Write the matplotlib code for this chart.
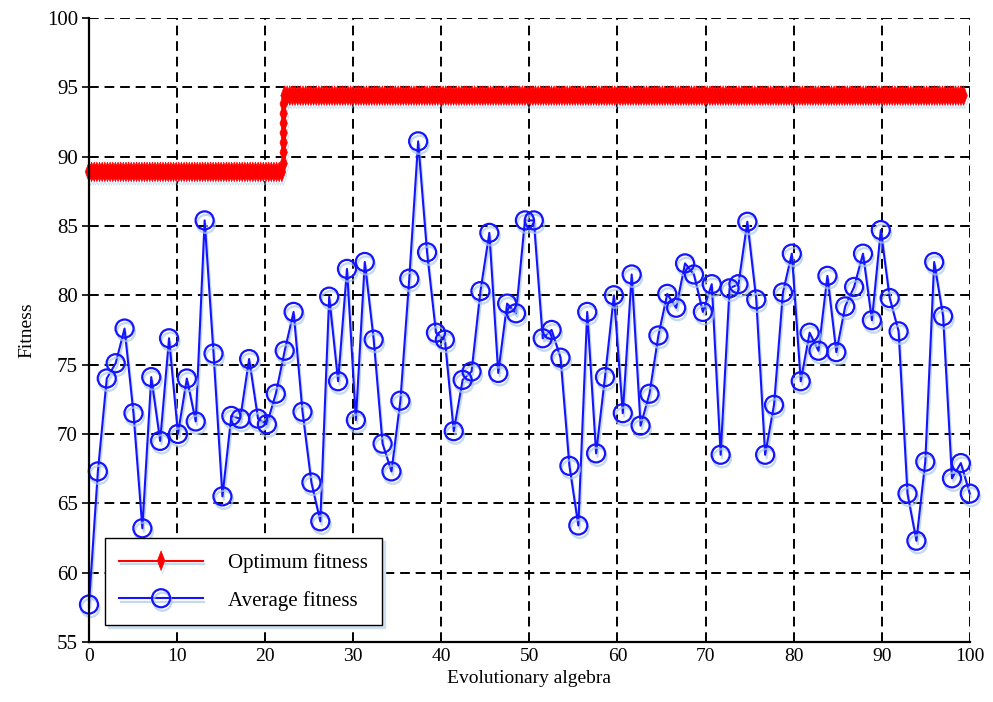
import numpy as np
import matplotlib
matplotlib.use("Agg")
import matplotlib.pyplot as plt
import matplotlib.patheffects as pe
from matplotlib.path import Path

plt.rcParams['font.family'] = ['Liberation Serif', 'DejaVu Serif']

# ---- data ----
avg_fitness = [57.7, 67.3, 74.0, 75.1, 77.6, 71.5, 63.2, 74.1, 69.5, 76.9,
               70.0, 74.0, 70.9, 85.4, 75.8, 65.5, 71.3, 71.1, 75.4, 71.1,
               70.7, 72.9, 76.0, 78.8, 71.6, 66.5, 63.7, 79.9, 73.8, 81.9,
               71.0, 82.4, 76.8, 69.3, 67.3, 72.4, 81.2, 91.1, 83.1, 77.3,
               76.8, 70.2, 73.9, 74.5, 80.3, 84.5, 74.4, 79.4, 78.7, 85.4,
               85.4, 76.9, 77.5, 75.5, 67.7, 63.4, 78.8, 68.6, 74.1, 80.0,
               71.5, 81.5, 70.6, 72.9, 77.1, 80.1, 79.1, 82.3, 81.5, 78.8,
               80.8, 68.5, 80.5, 80.8, 85.3, 79.7, 68.5, 72.1, 80.2, 83.0,
               73.8, 77.3, 76.0, 81.4, 75.9, 79.2, 80.6, 83.0, 78.2, 84.7,
               79.8, 77.4, 65.7, 62.3, 68.0, 82.4, 78.5, 66.8, 67.9, 65.7]
gen_avg = np.linspace(0, 100, len(avg_fitness))

# optimum fitness: step from 88.9 to 94.4 around generation 22
opt_low, opt_high = 88.9, 94.4
opt_switch = 22.0
opt_end = 99.5
opt_transition = [89.5, 90.3, 91.0, 91.7, 92.4, 93.1, 93.8]
gen_opt_low = np.arange(0, opt_switch + 0.01, 0.3)
gen_opt_high = np.arange(opt_switch + 0.2, opt_end + 0.01, 0.3)
gen_opt = np.concatenate([gen_opt_low,
                          np.full(len(opt_transition), opt_switch + 0.1),
                          gen_opt_high])
opt_fitness = np.concatenate([np.full(len(gen_opt_low), opt_low),
                              opt_transition,
                              np.full(len(gen_opt_high), opt_high)])

xticks = list(range(0, 101, 10))
yticks = list(range(55, 101, 5))

# ---- figure ----
fig = plt.figure(figsize=(9.93, 7.02), dpi=100)
ax = fig.add_axes([0.0896, 0.0855, 0.887, 0.889])

thin_diamond = Path([(0, 1), (0.38, 0), (0, -1), (-0.38, 0), (0, 1)],
                    [Path.MOVETO, Path.LINETO, Path.LINETO, Path.LINETO, Path.CLOSEPOLY])

shadow = [pe.SimpleLineShadow(offset=(1, -2.5), shadow_color='#a9c9ec', alpha=0.7), pe.Normal()]

ax.plot(gen_opt, opt_fitness, color='red', lw=1.5, marker=thin_diamond,
        markersize=14, mfc='red', mec='red', mew=0.5,
        label='Optimum fitness', path_effects=shadow, zorder=4, clip_on=False)
ax.plot(gen_avg, avg_fitness, color='#1414ff', lw=1.5, marker='o',
        markersize=13, mfc='none', mec='#1414ff', mew=1.6,
        label='Average fitness', path_effects=shadow, zorder=5, clip_on=False)

ax.set_xlim(0, 100)
ax.set_ylim(55, 100)
ax.set_xticks(xticks)
ax.set_yticks(yticks)
ax.grid(True, color='black', linestyle=(0, (5, 3)), linewidth=1.4)
ax.set_axisbelow(True)

for s in ['top', 'right']:
    ax.spines[s].set_visible(False)
for s in ['left', 'bottom']:
    ax.spines[s].set_linewidth(1.6)
    ax.spines[s].set_zorder(6)

ax.tick_params(axis='y', direction='out', length=5, width=1.2, labelsize=15, pad=3)
ax.tick_params(axis='x', direction='out', length=0, labelsize=14, pad=4)

ax.set_xlabel('Evolutionary algebra', fontsize=14, labelpad=4)
ax.set_ylabel('Fitness', fontsize=14, labelpad=8)

leg = ax.legend(loc='lower left', bbox_to_anchor=(0.018, 0.027), borderaxespad=0,
                fontsize=15, frameon=True, fancybox=False, edgecolor='black',
                handlelength=4.0, handletextpad=1.2, borderpad=0.7, labelspacing=0.85,
                shadow={'color': '#cfe0f3', 'alpha': 1.0})
leg.get_frame().set_linewidth(1.0)
leg.set_zorder(7)

fig.savefig('out.png', dpi=100, facecolor='white')
